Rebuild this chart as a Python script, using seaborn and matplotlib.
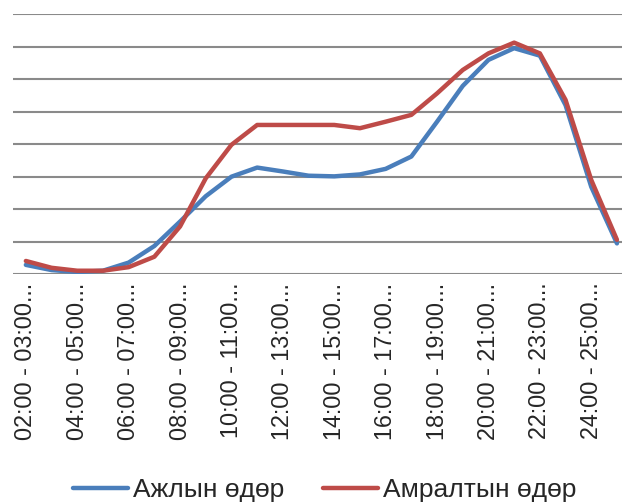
import matplotlib
matplotlib.use("Agg")
import matplotlib.pyplot as plt
import numpy as np
import pandas as pd
import seaborn as sns

# Hourly intervals (start hour of each one-hour slot)
hours = [f"{h:02d}:00 - {h + 1:02d}:00" for h in range(2, 26)]

# Load profile, weekday vs. weekend (relative units)
weekday = [0.29, 0.13, 0.07, 0.11, 0.36, 0.87, 1.62, 2.40, 3.00, 3.28, 3.16, 3.03,
           3.01, 3.07, 3.24, 3.62, 4.69, 5.79, 6.59, 6.95, 6.72, 5.20, 2.69, 0.95]
weekend = [0.41, 0.20, 0.11, 0.11, 0.22, 0.54, 1.47, 2.95, 3.98, 4.59, 4.59, 4.59,
           4.59, 4.49, 4.69, 4.90, 5.56, 6.28, 6.79, 7.12, 6.79, 5.36, 2.90, 1.06]

series_names = ["Ажлын өдөр", "Амралтын өдөр"]
colors = ["#4a7ebb", "#be4b48"]

df = pd.DataFrame({
    "pos": list(range(len(hours))) * 2,
    "value": weekday + weekend,
    "series": [series_names[0]] * len(hours) + [series_names[1]] * len(hours),
})

sns.set_style("white")
plt.rcParams["font.family"] = ["Liberation Sans", "DejaVu Sans"]

fig = plt.figure(figsize=(6.22, 5.03), dpi=100)
ax = fig.add_axes([13 / 622, 1 - 274.3 / 503, 616.8 / 622, 260.3 / 503])

sns.lineplot(data=df, x="pos", y="value", hue="series", palette=colors,
             linewidth=3.2, ax=ax, legend=False, sort=False)

ax.set_xlim(-0.5, len(hours) - 0.5)
ax.set_ylim(0, 8)
ax.set_yticks(np.arange(0, 9, 1))
ax.yaxis.grid(True, color="#8a8a8a", linewidth=1.5)
ax.xaxis.grid(False)
ax.set_axisbelow(True)
for s in ax.spines.values():
    s.set_visible(False)
ax.tick_params(axis="y", left=False, labelleft=False)

ticks = list(range(0, len(hours), 2))
ax.set_xticks(ticks)
ax.set_xticklabels([hours[i] + "..." for i in ticks], rotation=90,
                   fontsize=16.8, va="top", ha="center")
ax.tick_params(axis="x", length=0, pad=6)
ax.set_xlabel("")
ax.set_ylabel("")

handles = [plt.Line2D([], [], color=c, linewidth=3.2) for c in colors]
fig.legend(handles, series_names, loc="center", bbox_to_anchor=(0.5225, 0.025),
           ncol=2, frameon=False, fontsize=19, handlelength=2.08,
           handletextpad=0.19, columnspacing=1.48, borderaxespad=0)

fig.savefig("out.png", dpi=100)
